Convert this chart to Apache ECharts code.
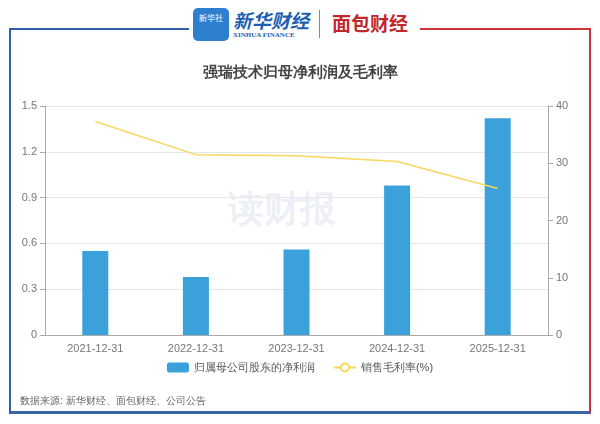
<!DOCTYPE html>
<html><head><meta charset="utf-8">
<script src="https://cdn.jsdelivr.net/npm/echarts@6/dist/echarts.min.js"></script>
<style>
html,body{margin:0;padding:0;background:#fff;font-family:"Noto Sans CJK SC",sans-serif;}
#frame{position:absolute;left:9px;top:28px;width:582px;height:386px;border-left:2px solid #2f5fa8;border-right:2px solid #d0343a;border-bottom:3px solid #3a66a8;box-sizing:border-box;}
#tl{position:absolute;left:9px;top:28px;width:180px;height:2px;background:#2f5fa8;}
#tr{position:absolute;left:420px;top:28px;width:171px;height:2px;background:#d0343a;}
#logo{position:absolute;left:193px;top:8px;width:36px;height:33px;background:#2f7fd0;border-radius:5px;color:#fff;font-size:8px;text-align:center;line-height:20px;}
#xh{position:absolute;left:233px;top:6px;font-size:19px;color:#1f5fb0;font-family:"Noto Sans CJK SC";font-weight:bold;font-style:italic;}
#xh2{position:absolute;left:233px;top:31px;font-size:7px;color:#1f5fb0;font-family:"Liberation Serif";font-weight:bold;}
#sep{position:absolute;left:319px;top:10px;width:1px;height:28px;background:#c86a70;}
#mb{position:absolute;left:332px;top:9px;font-size:19px;color:#c2272d;font-weight:bold;}
#chart{position:absolute;left:0;top:0;width:600px;height:424px;}
</style></head><body>
<div id="tl"></div><div id="tr"></div><div id="frame"></div>
<div id="logo">新华社</div><div id="xh">新华财经</div><div id="xh2">XINHUA FINANCE</div><div id="sep"></div><div id="mb">面包财经</div>
<div id="chart"></div>
<script>
const categories=['2021-12-31','2022-12-31','2023-12-31','2024-12-31','2025-12-31'];
const netProfit=[0.55,0.38,0.56,0.98,1.42];
const grossMargin=[37.3,31.5,31.3,30.3,25.6];
const chart=echarts.init(document.getElementById('chart'));
const lbl={color:'#777',fontSize:11};
chart.setOption({
 animation:false,
 title:{text:'强瑞技术归母净利润及毛利率',left:'center',top:60,textStyle:{fontSize:15,fontWeight:'bold',color:'#444'}},
 grid:{left:45,right:52,top:106,bottom:89},
 legend:{bottom:46,itemGap:18,textStyle:{color:'#555',fontSize:11},
   data:[{name:'归属母公司股东的净利润',icon:'roundRect'},{name:'销售毛利率(%)'}],itemWidth:22,itemHeight:10},
 graphic:[{type:'text',left:20,top:396,style:{text:'数据来源: 新华财经、面包财经、公司公告',fill:'#666',fontSize:10}},
  {type:'text',left:228,top:193,style:{text:'读财报',fill:'rgba(200,210,225,0.35)',fontSize:36,fontWeight:'bold'}}],
 xAxis:{type:'category',data:categories,axisLine:{lineStyle:{color:'#aaa'}},axisTick:{lineStyle:{color:'#aaa'}},axisLabel:lbl},
 yAxis:[{type:'value',min:0,max:1.5,interval:0.3,axisLine:{show:true,lineStyle:{color:'#aaa'}},axisTick:{show:true},axisLabel:lbl,splitLine:{lineStyle:{color:'#e6e6e6'}}},
  {type:'value',min:0,max:40,interval:10,axisLine:{show:true,lineStyle:{color:'#aaa'}},axisTick:{show:true},axisLabel:lbl,splitLine:{show:false}}],
 series:[{name:'归属母公司股东的净利润',type:'bar',data:netProfit,barWidth:26,itemStyle:{color:'#3aa1da'}},
  {name:'销售毛利率(%)',type:'line',yAxisIndex:1,data:grossMargin,symbol:'emptyCircle',symbolSize:9,showSymbol:false,lineStyle:{color:'#f9d65c',width:1.5},itemStyle:{color:'#f9d65c',borderWidth:2}}]
});
</script></body></html>
